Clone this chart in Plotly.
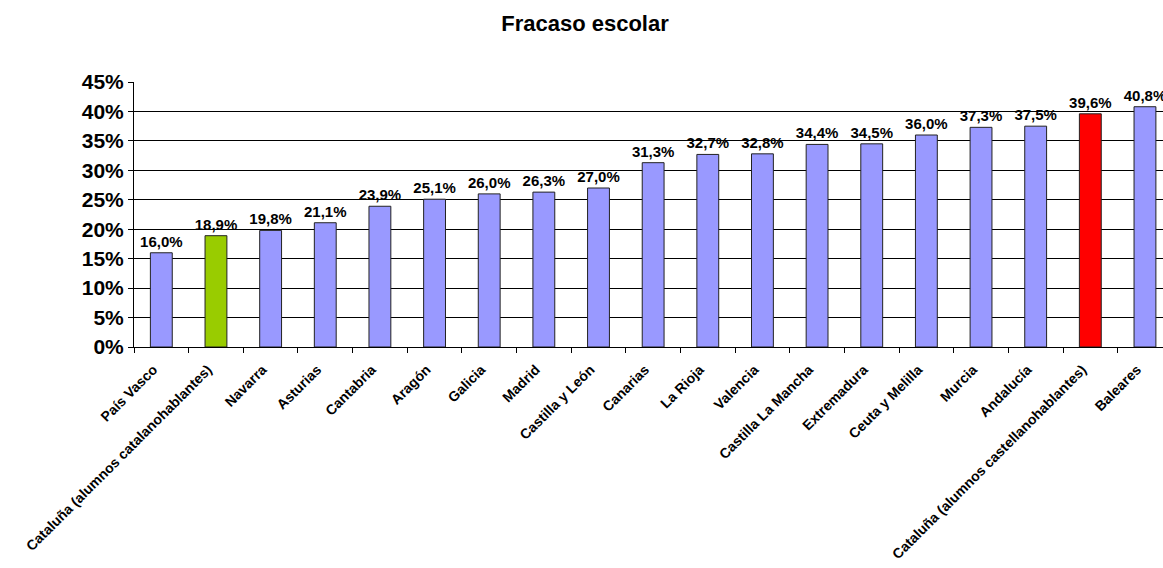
import plotly.graph_objects as go

categories = ["País Vasco", "Cataluña (alumnos catalanohablantes)", "Navarra", "Asturias",
              "Cantabria", "Aragón", "Galicia", "Madrid", "Castilla y León", "Canarias",
              "La Rioja", "Valencia", "Castilla La Mancha", "Extremadura", "Ceuta y Melilla",
              "Murcia", "Andalucía", "Cataluña (alumnos castellanohablantes)", "Baleares"]
values = [16.0, 18.9, 19.8, 21.1, 23.9, 25.1, 26.0, 26.3, 27.0, 31.3,
          32.7, 32.8, 34.4, 34.5, 36.0, 37.3, 37.5, 39.6, 40.8]
colors = ["#9999FF", "#99CC00"] + ["#9999FF"] * 15 + ["#FF0000", "#9999FF"]

fracs = [v / 100 for v in values]

FONT = "Liberation Sans, Arial"

fig = go.Figure(go.Bar(
    x=categories, y=fracs,
    marker=dict(color=colors, line=dict(color="#222222", width=1)),
    width=0.40,
    text=[f"{v:.1f}%".replace(".", ",") for v in values],
    textposition="outside",
    constraintext="none",
    textfont=dict(family=FONT, size=15, color="black", weight="bold"),
    cliponaxis=False,
))

fig.update_layout(
    width=1163, height=568,
    paper_bgcolor="white", plot_bgcolor="white",
    margin=dict(l=134, r=0, t=82, b=221),
    title=dict(text="Fracaso escolar", x=0.503, xanchor="center", y=0.9595, yanchor="middle",
               font=dict(family=FONT, size=22, color="black", weight="bold")),
    showlegend=False,
    xaxis=dict(
        range=[-0.5, 18.33],
        automargin=False,
        tickangle=-45,
        tickfont=dict(family=FONT, size=14, color="black", weight="bold"),
        ticklabelstandoff=8,
        ticklabelshift=-8,
        showline=True, linecolor="black", linewidth=1,
        ticks="outside", tickson="boundaries", ticklen=5, tickcolor="black",
        showgrid=False,
    ),
    yaxis=dict(
        range=[0, 0.45], dtick=0.05, tickformat=".0%",
        automargin=False,
        tickfont=dict(family=FONT, size=21, color="black", weight="bold"),
        showline=True, linecolor="black", linewidth=1,
        ticks="outside", ticklen=5, tickcolor="black",
        showgrid=True, gridcolor="black", gridwidth=1,
        zeroline=False,
    ),
)

fig.write_html("out.html", config={"displayModeBar": False},
               post_script="document.body.style.margin='0';document.body.style.overflow='hidden';")
